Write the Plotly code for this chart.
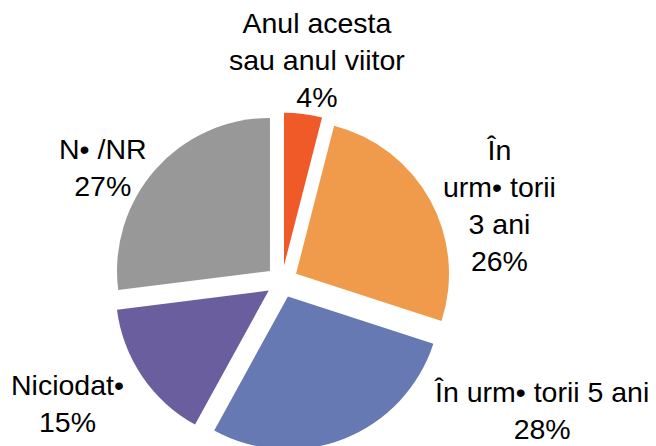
import plotly.graph_objects as go

# Data
labels = ["Anul acesta<br>sau anul viitor", "În<br>urm• torii<br>3 ani", "În urm• torii 5 ani", "Niciodat•", "N• /NR"]
values = [4, 26, 28, 15, 27]
colors = ["#EF5A28", "#F09B4C", "#6679B3", "#6B5E9E", "#989898"]

W, H = 656, 446
OFF = 8  # page body margin

# pie box in page pixels (left, right, top, bottom)
bx0, bx1, by0, by1 = 113 - OFF, 451 - OFF, 112.5 - OFF, 450.5 - OFF

fig = go.Figure()
fig.add_trace(go.Pie(
    labels=labels,
    values=values,
    sort=False,
    direction="clockwise",
    rotation=0,
    pull=[0.105] * len(values),
    marker=dict(colors=colors, line=dict(width=0)),
    textinfo="none",
    hoverinfo="label+percent",
    showlegend=False,
    domain=dict(x=[bx0 / W, bx1 / W], y=[(H - by1) / H, (H - by0) / H]),
))

# label placement (pixel centres in the page)
label_pos = [(317, 60), (499, 205), (541, 410), (67, 403), (103, 167)]
for lab, val, (px, py) in zip(labels, values, label_pos):
    fig.add_annotation(
        x=(px - OFF) / W, y=1 - (py - OFF) / H, xref="paper", yref="paper",
        text=f"{lab}<br>{val}%", showarrow=False,
        xanchor="center", yanchor="middle", align="center",
        font=dict(family="Liberation Sans, Arial, sans-serif", size=28.5, color="#000000"),
    )

fig.update_layout(
    width=W, height=H,
    margin=dict(l=0, r=0, t=0, b=0),
    paper_bgcolor="white",
    plot_bgcolor="white",
)

fig.write_html("out.html")
